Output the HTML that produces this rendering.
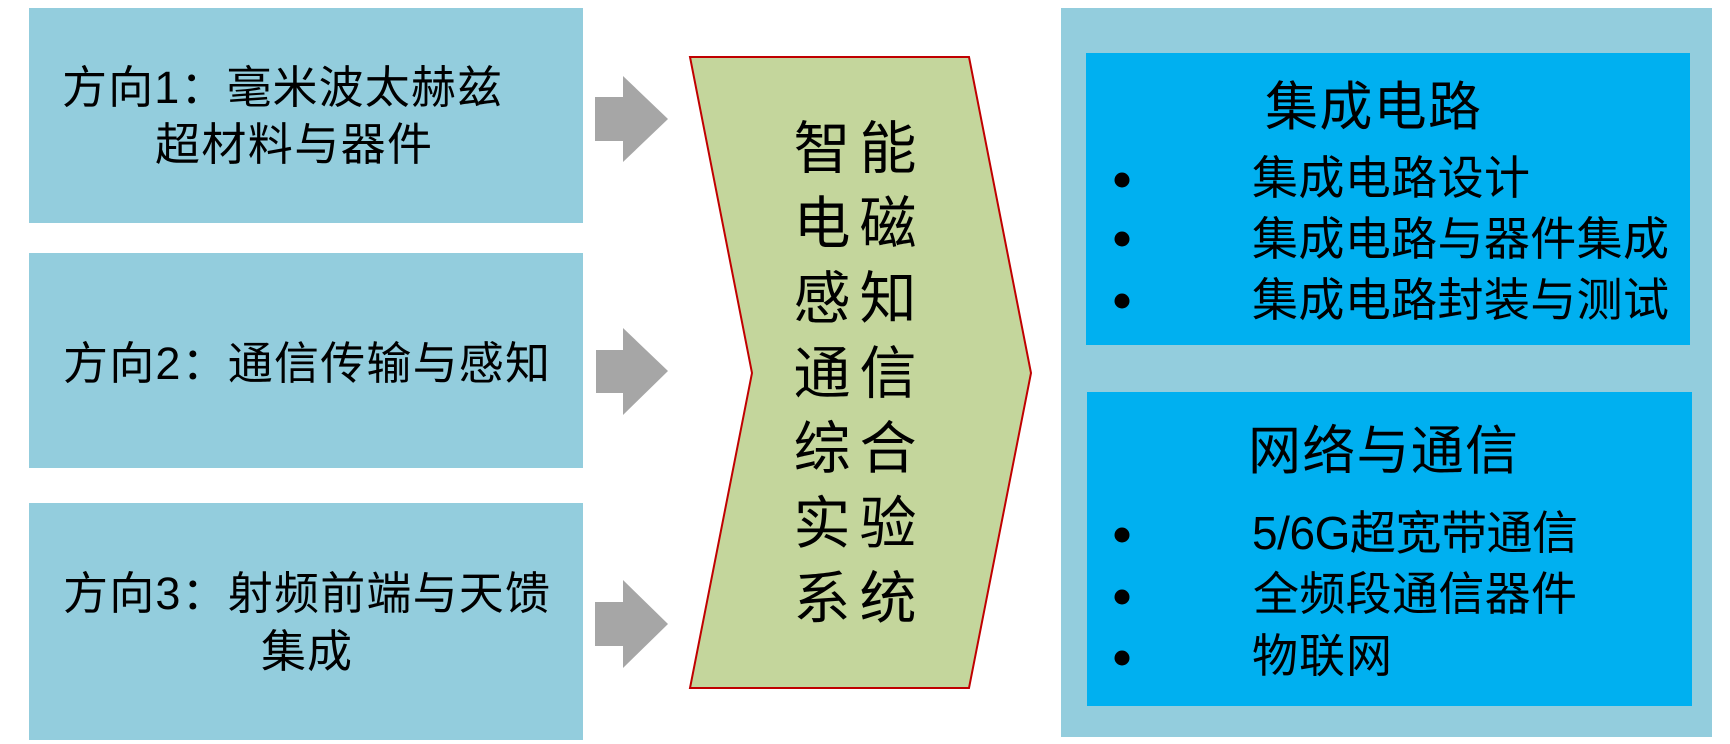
<!DOCTYPE html>
<html>
<head>
<meta charset="utf-8">
<style>
  html, body { margin: 0; padding: 0; background: #ffffff; }
  body { width: 1730px; height: 744px; overflow: hidden; }
  svg { display: block; }
  text { font-family: "Liberation Sans", "Noto Sans CJK SC", sans-serif; fill: #000; }
</style>
</head>
<body>
<svg width="1730" height="744" viewBox="0 0 1730 744" xmlns="http://www.w3.org/2000/svg">
  <!-- Left boxes -->
  <rect x="29" y="8" width="554" height="215" fill="#93CDDD"/>
  <rect x="29" y="253" width="554" height="215" fill="#93CDDD"/>
  <rect x="29" y="503" width="554" height="237" fill="#93CDDD"/>

  <!-- Left box texts -->
  <text x="62" y="103" font-size="45" textLength="440" lengthAdjust="spacing">方向1：毫米波太赫兹</text>
  <text x="155" y="160" font-size="45" textLength="277" lengthAdjust="spacing">超材料与器件</text>
  <text x="63" y="379" font-size="45" textLength="487" lengthAdjust="spacing">方向2：通信传输与感知</text>
  <text x="63" y="609" font-size="45" textLength="487" lengthAdjust="spacing">方向3：射频前端与天馈</text>
  <text x="261" y="667" font-size="45" textLength="91" lengthAdjust="spacing">集成</text>

  <!-- Arrows -->
  <polygon points="595,97 623,97 623,76 668,119 623,162 623,141 595,141" fill="#A6A6A6"/>
  <polygon points="596,350 623,350 623,328 668,371 623,415 623,393 596,393" fill="#A6A6A6"/>
  <polygon points="595,602 623,602 623,580 668,624 623,668 623,646 595,646" fill="#A6A6A6"/>

  <!-- Chevron -->
  <polygon points="690,57 969,57 1031,373 969,688 690,688 752,373" fill="#C4D69C" stroke="#C00000" stroke-width="2" stroke-linejoin="miter"/>

  <!-- Chevron text -->
  <g font-size="57" text-anchor="middle">
    <text x="822" y="168">智</text><text x="888" y="168">能</text>
    <text x="822" y="243">电</text><text x="888" y="243">磁</text>
    <text x="822" y="318">感</text><text x="888" y="318">知</text>
    <text x="822" y="393">通</text><text x="888" y="393">信</text>
    <text x="822" y="468">综</text><text x="888" y="468">合</text>
    <text x="822" y="543">实</text><text x="888" y="543">验</text>
    <text x="822" y="618">系</text><text x="888" y="618">统</text>
  </g>

  <!-- Right panel -->
  <rect x="1061" y="8" width="651" height="729" fill="#93CDDD"/>
  <rect x="1086" y="53" width="604" height="292" fill="#00B0F0"/>
  <rect x="1087" y="392" width="605" height="314" fill="#00B0F0"/>

  <!-- Inner box 1 -->
  <text x="1265" y="125" font-size="53" textLength="216" lengthAdjust="spacing">集成电路</text>
  <circle cx="1122" cy="180" r="7.5" fill="#000"/>
  <circle cx="1122" cy="239" r="7.5" fill="#000"/>
  <circle cx="1122" cy="301" r="7.5" fill="#000"/>
  <text x="1252" y="194" font-size="46" textLength="278" lengthAdjust="spacing">集成电路设计</text>
  <text x="1252" y="255" font-size="46" textLength="417" lengthAdjust="spacing">集成电路与器件集成</text>
  <text x="1252" y="316" font-size="46" textLength="417" lengthAdjust="spacing">集成电路封装与测试</text>

  <!-- Inner box 2 -->
  <text x="1248" y="469" font-size="53" textLength="270" lengthAdjust="spacing">网络与通信</text>
  <circle cx="1122" cy="535" r="7.5" fill="#000"/>
  <circle cx="1122" cy="597" r="7.5" fill="#000"/>
  <circle cx="1122" cy="658" r="7.5" fill="#000"/>
  <text x="1252" y="549" font-size="46" textLength="326" lengthAdjust="spacing">5/6G超宽带通信</text>
  <text x="1253" y="610" font-size="46" textLength="324" lengthAdjust="spacing">全频段通信器件</text>
  <text x="1252" y="672" font-size="46" textLength="140" lengthAdjust="spacing">物联网</text>
</svg>
</body>
</html>
